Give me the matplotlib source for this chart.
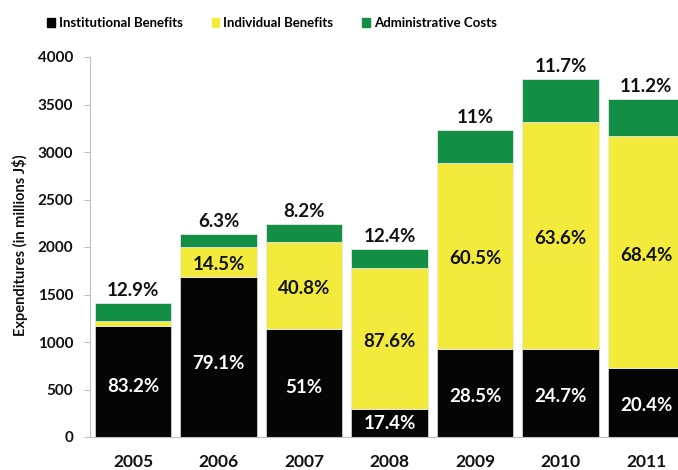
import matplotlib
matplotlib.use('Agg')
import matplotlib.pyplot as plt
from matplotlib.patches import Patch
import numpy as np

years = ['2005', '2006', '2007', '2008', '2009', '2010', '2011']

# values (millions J$)
institutional = [1165, 1687, 1137, 298, 926, 926, 723]
individual = [59, 310, 919, 1478, 1961, 2393, 2442]
administrative = [183, 137, 186, 200, 345, 446, 396]

inst_labels = ['83.2%', '79.1%', '51%', '17.4%', '28.5%', '24.7%', '20.4%']
indiv_labels = ['', '14.5%', '40.8%', '87.6%', '60.5%', '63.6%', '68.4%']
admin_labels = ['12.9%', '6.3%', '8.2%', '12.4%', '11%', '11.7%', '11.2%']

black = '#050505'
yellow = '#F3EB3B'
green = '#138F45'

plt.rcParams['font.family'] = ['Lato', 'DejaVu Sans']
plt.rcParams['font.weight'] = 'bold'

fig = plt.figure(figsize=(6.78, 4.70), dpi=100)
ax = fig.add_axes([90 / 678, 1 - 437 / 470, 1 - 90 / 678, (437 - 57) / 470])

x = np.arange(len(years))
inst = np.array(institutional)
indiv = np.array(individual)
adm = np.array(administrative)
w = 0.89

ax.bar(x, inst, w, color=black, edgecolor='#cfcfcf', linewidth=0.6)
ax.bar(x, indiv, w, bottom=inst, color=yellow, edgecolor='#e8e8e8', linewidth=0.6)
ax.bar(x, adm, w, bottom=inst + indiv, color=green, edgecolor='#e8e8e8', linewidth=0.6)

fs = 13.5
for i in range(len(years)):
    ax.text(x[i], inst[i] * 0.46, inst_labels[i], ha='center', va='center',
            color='white', fontsize=fs, fontweight='bold')
    if indiv_labels[i]:
        ax.text(x[i], inst[i] + indiv[i] / 2 - 30, indiv_labels[i], ha='center',
                va='center', color='#111111', fontsize=fs, fontweight='bold')
    ax.annotate(admin_labels[i], (x[i], inst[i] + indiv[i] + adm[i]),
                xytext=(0, 3), textcoords='offset points', ha='center', va='bottom',
                color='#111111', fontsize=fs, fontweight='bold', annotation_clip=False)

ax.set_xlim(-0.503, 6.374)
ax.set_ylim(0, 4000)
ax.set_yticks(range(0, 4001, 500))
ax.set_xticks(x)
ax.set_xticklabels(years, fontsize=12.5, fontweight='bold', color='#111111')
ax.tick_params(axis='x', length=0, pad=12)
ax.tick_params(axis='y', length=4, color='#bfbfbf', labelsize=11, labelcolor='#111111', pad=8)
for lab in ax.get_yticklabels():
    lab.set_fontweight('bold')

for s in ['top', 'right']:
    ax.spines[s].set_visible(False)
ax.spines['left'].set_color('#bfbfbf')
ax.spines['bottom'].set_color('#bfbfbf')
ax.spines['bottom'].set_bounds(-0.55, 6.374)

fig.text(20 / 678, 1 - 245 / 470, 'Expenditures (in millions J$)', rotation=90,
         ha='center', va='center', fontsize=10.5, fontweight='bold', color='#111111')

handles = [Patch(color=black), Patch(color=yellow), Patch(color=green)]
fig.legend(handles, ['Institutional Benefits', 'Individual Benefits', 'Administrative Costs'],
           loc='center', bbox_to_anchor=(272 / 678, 1 - 23 / 470), ncol=3, frameon=False,
           handlelength=0.6, handleheight=0.6, handletextpad=0.3, columnspacing=2.2,
           prop={'size': 9.5, 'weight': 'bold'})

plt.savefig('out.png', dpi=100)
